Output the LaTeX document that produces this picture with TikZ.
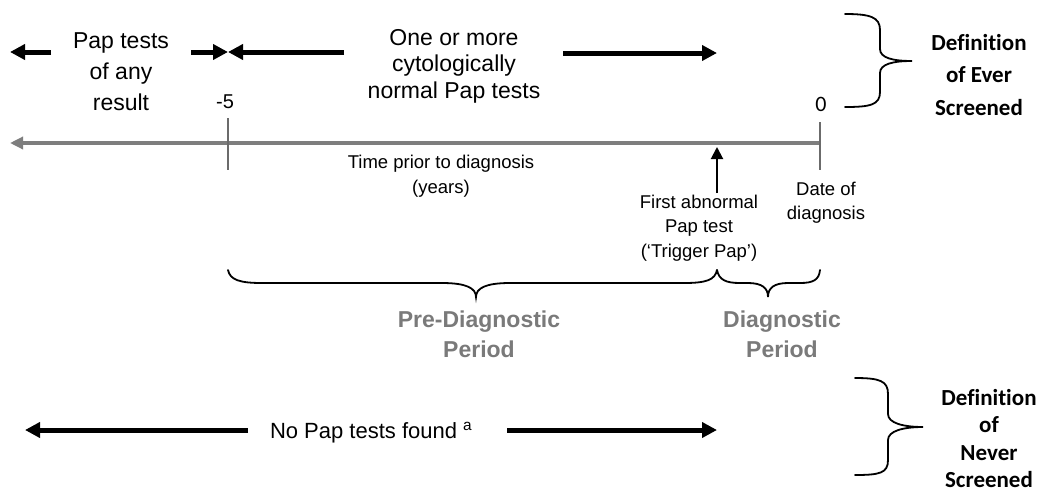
\documentclass[tikz,border=0pt]{standalone}
\usepackage{fontspec}
\setmainfont{Liberation Sans}
\newfontfamily\calib[Ligatures=NoCommon]{Carlito}
\usetikzlibrary{arrows.meta}
\newcommand\mystack[1]{\begin{tabular}[t]{@{}c@{}}#1\end{tabular}}
\definecolor{tlgray}{HTML}{7E7E7E}
\definecolor{lblgray}{HTML}{7A7A7A}
\begin{document}
\begin{tikzpicture}[x=1pt,y=-1pt,
  every node/.style={inner sep=0pt, outer sep=0pt},
  fat/.style={line width=5pt, -{Triangle[length=15pt,width=15pt]}},
  thin/.style={line width=2pt, -{Triangle[length=12pt,width=12pt]}},
  brace/.style={line width=1.8pt, line cap=round},
  tick/.style={line width=2pt, tlgray!85!black},
  big/.style={anchor=base, font=\fontsize{23}{#1}\selectfont},
  small/.style={anchor=base, font=\fontsize{18.5}{#1}\selectfont},
  defn/.style={anchor=base, font=\calib\bfseries\fontsize{23}{#1}\selectfont},
  period/.style={anchor=base, text=lblgray, font=\bfseries\fontsize{23}{30}\selectfont}
]
\useasboundingbox (0,0) rectangle (1041,493);
\fill[white] (0,0) rectangle (1041,493);

% coordinates
\coordinate (a1s) at (51,52);  \coordinate (a1e) at (10,52);
\coordinate (a2s) at (191,52); \coordinate (m5) at (228,52);
\coordinate (a3s) at (344,52);
\coordinate (a4s) at (563,53); \coordinate (a4e) at (717,53);
\coordinate (tl0) at (820,143); \coordinate (tlend) at (10,143);
\coordinate (t5a) at (228,118); \coordinate (t5b) at (228,170);
\coordinate (t0a) at (820,122); \coordinate (t0b) at (820,170);
\coordinate (trs) at (717,193); \coordinate (tre) at (717,147);
\coordinate (b1s) at (248,430); \coordinate (b1e) at (25,430);
\coordinate (b2s) at (507,430); \coordinate (b2e) at (717,430);

% top arrows
\draw[fat] (a1s) -- (a1e);
\draw[fat] (a2s) -- (m5);
\draw[fat] (a3s) -- (m5);
\draw[fat] (a4s) -- (a4e);

% top texts
\node[big=31] (pap) at (121,48) {\mystack{Pap tests\\of any\\result}};
\node[big=26.5] (one) at (454,45) {\mystack{One or more\\cytologically\\normal Pap tests}};
\node[anchor=base, font=\fontsize{20}{24}\selectfont] (m5lbl) at (225,108) {-5};
\node[anchor=base, font=\calib\fontsize{22}{26}\selectfont] (zero) at (821,111) {0};

% timeline
\draw[line width=4pt, tlgray, -{Triangle[length=13pt,width=12pt]}] (tl0) -- (tlend);
\draw[tick] (t5a) -- (t5b);
\draw[tick] (t0a) -- (t0b);
\node[small=25] (time) at (441,168) {\mystack{Time prior to diagnosis\\(years)}};

% trigger
\draw[thin] (trs) -- (tre);
\node[small=24.5] (trig) at (699,208) {\mystack{First abnormal\\Pap test\\(‘Trigger Pap’)}};
\node[small=24.5] (date) at (826,195) {\mystack{Date of\\diagnosis}};

% definition braces
\draw[brace] (845,14) .. controls (870,14) and (880,17) .. (880,30) -- (880,49)
  .. controls (880,58) and (893,61) .. (912,61)
  .. controls (893,61) and (880,64) .. (880,73) -- (880,92)
  .. controls (880,105) and (870,107) .. (845,107);
\node[defn=32.5] (ever) at (979,50) {\mystack{Definition\\of Ever\\Screened}};

% period braces
\draw[brace] (228,270) .. controls (230,280) and (240,283) .. (262,283) -- (442,283)
  .. controls (466,283) and (476,288) .. (476,297)
  .. controls (476,288) and (486,283) .. (510,283) -- (684,283)
  .. controls (706,283) and (715,280) .. (717,270);
\draw[brace] (717,270) .. controls (719,280) and (726,283) .. (740,283) -- (748,283)
  .. controls (762,283) and (768,288) .. (768,297)
  .. controls (768,288) and (774,283) .. (788,283) -- (800,283)
  .. controls (813,283) and (819,280) .. (820,270);
\node[period] (pre) at (479,327) {\mystack{Pre-Diagnostic\\Period}};
\node[period] (diag) at (782,327) {\mystack{Diagnostic\\Period}};

% never screened
\draw[fat] (b1s) -- (b1e);
\draw[fat] (b2s) -- (b2e);
\node[anchor=base west, font=\fontsize{22}{26}\selectfont] (none) at (270,438) {No Pap tests found \textsuperscript{a}};
\draw[brace] (855,378) .. controls (880,378) and (888,381) .. (888,394) -- (888,414)
  .. controls (888,423) and (903,427) .. (923,427)
  .. controls (903,427) and (888,431) .. (888,440) -- (888,460)
  .. controls (888,473) and (880,475) .. (855,475);
\node[defn=27.5] (never) at (989,405) {\mystack{Definition\\of\\Never\\Screened}};
\end{tikzpicture}
\end{document}
